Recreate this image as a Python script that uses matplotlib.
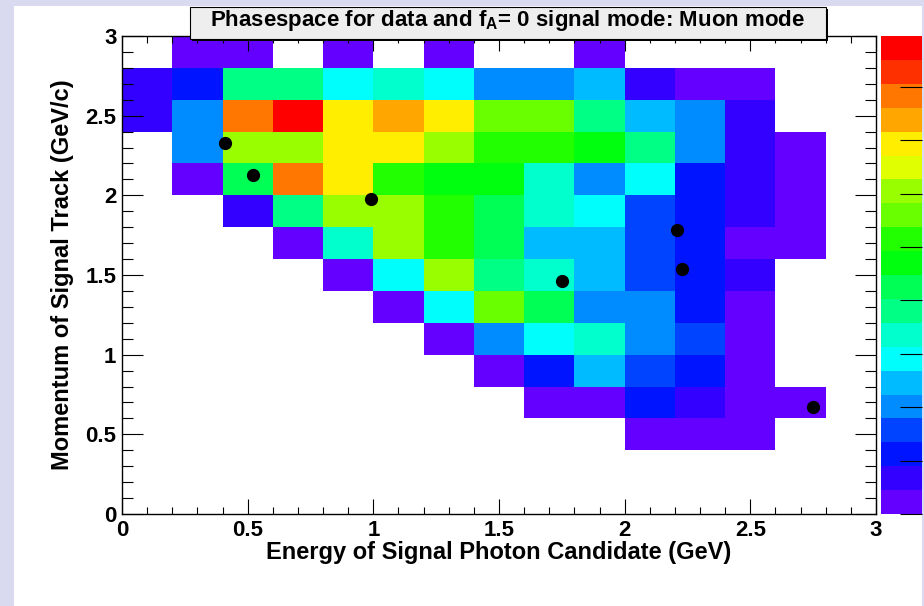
import colorsys
import numpy as np
import matplotlib
matplotlib.use("Agg")
import matplotlib.pyplot as plt
from matplotlib.colors import ListedColormap, BoundaryNorm
from matplotlib.patches import Rectangle
from matplotlib.ticker import MultipleLocator, FuncFormatter

plt.rcParams["font.family"] = "Liberation Sans"
plt.rcParams["font.weight"] = "bold"
plt.rcParams["axes.labelweight"] = "bold"
plt.rcParams["mathtext.fontset"] = "custom"
plt.rcParams["mathtext.rm"] = "Liberation Sans:bold"
plt.rcParams["mathtext.bf"] = "Liberation Sans:bold"
plt.rcParams["mathtext.it"] = "Liberation Sans:bold"

# 15 x 15 bins, 0.2 GeV wide, on both axes
e_edges = np.linspace(0.0, 3.0, 16)
p_edges = np.linspace(0.0, 3.0, 16)

# signal MC phasespace, one list per momentum row, p = 2.8-3.0 first
counts = [
    [0.0, 0.2, 0.3, 0.0, 0.2, 0.0, 0.2, 0.0, 0.0, 0.2, 0.0, 0.0, 0.0, 0.0, 0.0],
    [0.7, 1.1, 3.8, 3.7, 2.9, 3.3, 2.8, 2.0, 2.1, 2.5, 0.7, 0.3, 0.2, 0.0, 0.0],
    [0.6, 1.9, 7.8, 8.93, 6.9, 7.3, 6.9, 5.6, 5.5, 3.8, 2.4, 2.0, 0.8, 0.0, 0.0],
    [0.0, 2.0, 6.1, 6.0, 6.8, 6.9, 6.0, 5.2, 5.1, 4.6, 3.8, 1.9, 0.8, 0.3, 0.0],
    [0.0, 0.3, 4.2, 7.7, 7.0, 5.1, 4.7, 4.6, 3.3, 2.0, 2.9, 1.1, 0.7, 0.2, 0.0],
    [0.0, 0.0, 0.7, 3.8, 6.0, 6.1, 5.0, 4.3, 3.4, 2.9, 1.5, 1.2, 0.7, 0.3, 0.0],
    [0.0, 0.0, 0.0, 0.3, 3.3, 6.0, 5.1, 4.2, 2.5, 2.4, 1.6, 1.1, 0.3, 0.2, 0.0],
    [0.0, 0.0, 0.0, 0.0, 0.2, 2.9, 6.1, 3.8, 3.3, 2.5, 1.5, 1.1, 0.7, 0.0, 0.0],
    [0.0, 0.0, 0.0, 0.0, 0.0, 0.3, 2.8, 5.6, 4.2, 2.0, 1.9, 1.1, 0.3, 0.0, 0.0],
    [0.0, 0.0, 0.0, 0.0, 0.0, 0.0, 0.2, 2.0, 2.9, 3.4, 2.0, 1.5, 0.3, 0.0, 0.0],
    [0.0, 0.0, 0.0, 0.0, 0.0, 0.0, 0.0, 0.3, 1.1, 2.5, 1.5, 1.0, 0.3, 0.0, 0.0],
    [0.0, 0.0, 0.0, 0.0, 0.0, 0.0, 0.0, 0.0, 0.2, 0.3, 1.1, 0.7, 0.3, 0.2, 0.0],
    [0.0, 0.0, 0.0, 0.0, 0.0, 0.0, 0.0, 0.0, 0.0, 0.0, 0.3, 0.2, 0.3, 0.0, 0.0],
    [0.0, 0.0, 0.0, 0.0, 0.0, 0.0, 0.0, 0.0, 0.0, 0.0, 0.0, 0.0, 0.0, 0.0, 0.0],
    [0.0, 0.0, 0.0, 0.0, 0.0, 0.0, 0.0, 0.0, 0.0, 0.0, 0.0, 0.0, 0.0, 0.0, 0.0],
]

# selected data events
data_e = [0.41, 0.52, 0.99, 1.75, 2.21, 2.23, 2.75]
data_p = [2.33, 2.13, 1.98, 1.46, 1.78, 1.54, 0.67]

z_max = 8.95
n_levels = 20
bar_ticks = [0, 1, 2, 3, 4, 5, 6, 7, 8]

title = "Phasespace for data and f$_{\\mathrm{A}}$= 0 signal mode: Muon mode"
x_title = "Energy of Signal Photon Candidate (GeV)"
y_title = "Momentum of Signal Track (GeV/c)"


def pretty_palette(ncont):
    # violet -> red, 50 hues, sampled down to ncont contour colours
    hues = [280.0 - (i + 1) * 280.0 / 50 for i in range(50)]
    cols = []
    for k in range(ncont):
        i = int((k + 0.99) * 50 / ncont)
        cols.append(colorsys.hls_to_rgb(hues[i] / 360.0, 0.5, 1.0))
    return cols


W, H = 924, 606
fig = plt.figure(figsize=(W / 100, H / 100), dpi=100)
fig.patch.set_facecolor("#d9daf0")
fig.patches.append(Rectangle((14 / W, 0), (922 - 14) / W, (H - 6) / H,
                             transform=fig.transFigure, facecolor="white",
                             edgecolor="none", zorder=-1))

ax = fig.add_axes([122 / W, (H - 514) / H, 754 / W, 478 / H])
cax = fig.add_axes([881 / W, (H - 514) / H, 41 / W, 478 / H])

cmap = ListedColormap(pretty_palette(n_levels))
norm = BoundaryNorm(np.linspace(0, z_max, n_levels + 1), n_levels)

z = np.ma.masked_equal(np.array(counts)[::-1], 0.0)
mesh = ax.pcolormesh(e_edges, p_edges, z, cmap=cmap, norm=norm,
                     edgecolors="none", antialiased=False)
ax.plot(data_e, data_p, "o", color="black", markersize=8.5, zorder=4)

ax.set_xlim(0, 3)
ax.set_ylim(0, 3)
fmt = FuncFormatter(lambda v, pos: "%g" % v)
for axis in (ax.xaxis, ax.yaxis):
    axis.set_major_locator(MultipleLocator(0.5))
    axis.set_minor_locator(MultipleLocator(0.1))
    axis.set_major_formatter(fmt)

ax.tick_params(axis="both", which="both", direction="in", width=0.8,
               top=True, right=True, labelsize=16, colors="black")
ax.tick_params(axis="x", which="major", length=11, pad=4)
ax.tick_params(axis="x", which="minor", length=4.7)
ax.tick_params(axis="y", which="major", length=15, pad=4)
ax.tick_params(axis="y", which="minor", length=8)
for sp in ax.spines.values():
    sp.set_linewidth(1.0)

ax.set_xlabel(x_title, fontsize=17, va="baseline")
ax.xaxis.set_label_coords(0.5, -45 / 478)
ax.set_ylabel(y_title, fontsize=17, va="center")
ax.yaxis.set_label_coords(-59 / 754, 0.5)

cb = fig.colorbar(mesh, cax=cax, ticks=bar_ticks)
cb.outline.set_visible(False)
cax.tick_params(axis="y", which="both", direction="in", length=16,
                width=0.8, labelright=False, right=True)
cax.minorticks_off()

# title pave with its drop shadow
box_l, box_r, box_t, box_b = 190, 826, 7, 39
fig.patches.append(Rectangle(((box_l + 2) / W, (H - box_b - 2) / H),
                             (box_r - box_l) / W, (box_b - box_t) / H,
                             transform=fig.transFigure, facecolor="black",
                             edgecolor="none", zorder=5))
fig.patches.append(Rectangle((box_l / W, (H - box_b) / H),
                             (box_r - box_l) / W, (box_b - box_t) / H,
                             transform=fig.transFigure, facecolor="#eeeeee",
                             edgecolor="black", linewidth=0.8, zorder=6))
fig.text((box_l + box_r) / 2 / W, (H - 26) / H, title, ha="center",
         va="baseline", fontsize=16, zorder=7)

fig.savefig("out.png", dpi=100)
